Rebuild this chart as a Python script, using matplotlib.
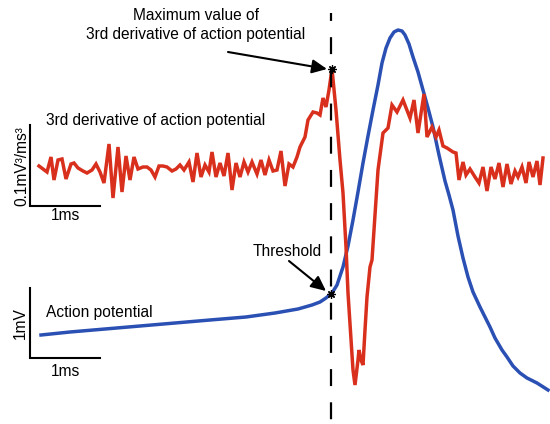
import matplotlib
matplotlib.use('Agg')
import matplotlib.pyplot as plt

# traces, in picture pixels (x right, y down)
deriv_x = [39, 47, 51, 54, 58, 62, 66, 71, 74, 78, 83, 87, 92, 96, 100, 104, 109, 113, 118, 122,
           126, 130, 134, 138, 143, 147, 151, 155, 159, 163, 167, 172, 176, 180, 184, 189, 193, 197, 201, 205,
           209, 212, 216, 220, 224, 228, 232, 236, 240, 244, 248, 252, 257, 261, 265, 269, 273, 277, 281, 285,
           289, 293, 297, 300, 305, 308, 313, 317, 320, 323, 326, 329, 332,
           336, 340, 343, 346, 348, 351, 353, 355, 358, 359, 361, 363, 365, 367, 370, 372, 375, 378, 383,
           388, 392, 397, 403, 410, 414, 418, 424, 427, 432, 436, 439, 443, 447, 453, 456,
           459, 463, 466, 470, 475, 479, 483, 487, 491, 495, 499, 503, 507, 511, 515, 518, 522, 526, 529,
           533, 537, 540, 543]
deriv_y = [166, 172, 157, 180, 160, 159, 179, 164, 163, 168, 171, 173, 170, 164, 172, 183, 144, 198, 147, 192,
           156, 180, 157, 169, 167, 167, 170, 177, 166, 166, 167, 171, 169, 165, 170, 162, 182, 153, 177, 165,
           172, 152, 177, 163, 176, 153, 190, 163, 177, 162, 172, 162, 174, 160, 175, 160, 171, 170, 151, 186,
           164, 167, 157, 147, 137, 120, 112, 113, 115, 98, 107, 90, 69,
           110, 160, 193, 247, 293, 340, 370, 385, 360, 350, 360, 365, 330, 297, 267, 260, 215, 170, 133,
           128, 105, 112, 100, 118, 100, 133, 94, 137, 127, 137, 130, 146, 148, 152, 153,
           180, 162, 175, 169, 177, 183, 167, 191, 167, 179, 163, 187, 164, 184, 171, 177, 167, 183, 162,
           177, 161, 185, 158]

ap_x = [41, 70, 105, 140, 175, 210, 246, 275, 298, 312, 320, 326, 332, 337, 343, 348, 353, 358, 363, 368,
        373, 378, 382, 386, 390, 394, 398, 402, 405, 409, 413, 418, 423, 428, 433, 439, 445, 449, 453, 458,
        463, 468, 473, 480, 485, 490, 495, 502, 507, 513, 520, 527, 537, 548]
ap_y = [335, 332, 329, 326, 323, 320, 317, 313, 309, 305, 302, 298, 293, 285, 267, 246, 220, 192, 163, 136,
        110, 85, 63, 48, 38, 32, 30, 31, 35, 44, 57, 72, 90, 108, 127, 155, 181, 195, 210, 236,
        258, 277, 292, 307, 317, 327, 338, 350, 357, 366, 373, 378, 383, 390]

max_point = (332, 69)
threshold_point = (331, 294)

red = '#d9301e'
blue = '#2b50b4'

plt.rcParams['font.family'] = ['Liberation Sans', 'DejaVu Sans']
plt.rcParams['lines.scale_dashes'] = False

fig = plt.figure(figsize=(5.5, 4.24), dpi=100)
ax = fig.add_axes([0, 0, 1, 1])
ax.set_xlim(0, 550)
ax.set_ylim(424, 0)
ax.axis('off')

ax.plot(deriv_x, deriv_y, color=red, lw=2.5, solid_joinstyle='miter', zorder=3)
ax.plot(ap_x, ap_y, color=blue, lw=2.5, zorder=2)

# dashed line through the threshold
ax.plot([331, 331], [13, 424], color='black', lw=1.6,
        linestyle=(6.5, (12.2, 11.7)), zorder=4)

ax.plot(*max_point, marker=(8, 2, 0), color='black', ms=6, mew=0.9, zorder=5)
ax.plot(*threshold_point, marker=(8, 2, 0), color='black', ms=6, mew=0.9, zorder=5)

# scale bars
ax.plot([30, 30, 100], [125, 206, 206], color='black', lw=1.5, solid_joinstyle='miter')
ax.plot([30, 30, 100], [288, 358, 358], color='black', lw=1.5, solid_joinstyle='miter')

fs = 11.2
ax.text(196, 16, 'Maximum value of', ha='center', va='center', fontsize=fs)
ax.text(196, 35, '3rd derivative of action potential', ha='center', va='center', fontsize=fs)
ax.text(46, 120, '3rd derivative of action potential', ha='left', va='center', fontsize=fs)
ax.text(22, 166, '0.1mV³/ms³', ha='center', va='center', rotation=90, fontsize=fs)
ax.text(65, 216, '1ms', ha='center', va='center', fontsize=fs)
ax.text(287, 252, 'Threshold', ha='center', va='center', fontsize=fs)
ax.text(46, 313, 'Action potential', ha='left', va='center', fontsize=fs)
ax.text(20, 323, '1mV', ha='center', va='center', rotation=90, fontsize=fs)
ax.text(65, 371, '1ms', ha='center', va='center', fontsize=fs)

arrow = dict(arrowstyle='-|>,head_length=0.9,head_width=0.42', color='black', lw=1.5,
             shrinkA=0, shrinkB=0)
ax.annotate('', xy=(327, 69), xytext=(228, 52), arrowprops=arrow)
ax.annotate('', xy=(326, 291), xytext=(289, 261), arrowprops=arrow)

plt.savefig('out.png', dpi=100)
